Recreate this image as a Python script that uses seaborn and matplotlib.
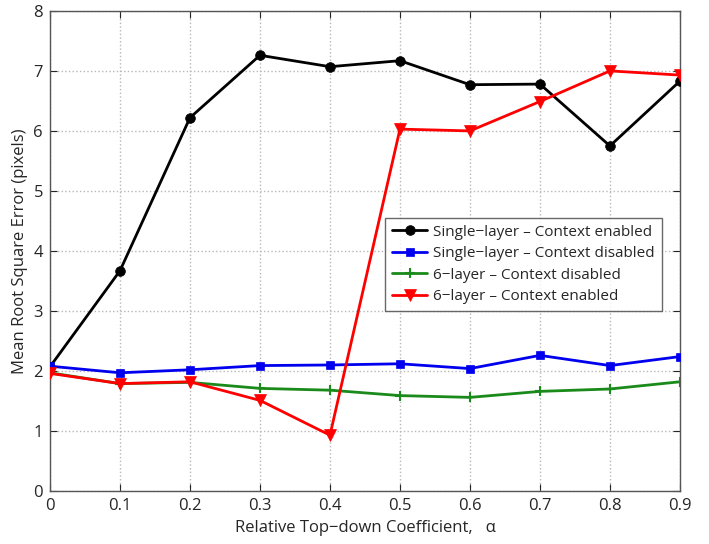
import matplotlib
matplotlib.use("Agg")
import matplotlib.pyplot as plt
import seaborn as sns
import pandas as pd

alpha = [0, 0.1, 0.2, 0.3, 0.4, 0.5, 0.6, 0.7, 0.8, 0.9]
single_ctx_on = [2.07, 3.67, 6.22, 7.26, 7.07, 7.17, 6.77, 6.78, 5.75, 6.83]
single_ctx_off = [2.08, 1.97, 2.02, 2.09, 2.10, 2.12, 2.04, 2.26, 2.09, 2.24]
six_ctx_off = [1.97, 1.79, 1.81, 1.71, 1.68, 1.59, 1.56, 1.66, 1.70, 1.82]
six_ctx_on = [1.96, 1.79, 1.82, 1.51, 0.93, 6.03, 6.00, 6.49, 7.00, 6.93]
labels = ["Single\u2212layer \u2013 Context enabled",
          "Single\u2212layer \u2013 Context disabled",
          "6\u2212layer \u2013 Context disabled",
          "6\u2212layer \u2013 Context enabled"]

sns.set_style("white")
plt.rcParams['font.family'] = ['Open Sans', 'DejaVu Sans']

fig = plt.figure(figsize=(7.09, 5.44), dpi=100)
ax = fig.add_axes([0.0705, 0.0974, 0.8885, 0.8826])

series = [single_ctx_on, single_ctx_off, six_ctx_off, six_ctx_on]
colors = ["black", "#0000ee", "#1a8a1a", "#ff0000"]
markers = ["o", "s", "+", "v"]
msizes = [7, 6, 7, 8]
zorders = [3, 4, 2, 5]
for i in range(4):
    df = pd.DataFrame({"x": alpha, "y": series[i]})
    sns.lineplot(data=df, x="x", y="y", ax=ax, color=colors[i], marker=markers[i],
                 markersize=msizes[i], linewidth=2, label=labels[i],
                 markeredgecolor=colors[i], markeredgewidth=1.5 if markers[i] == "+" else 0.5,
                 zorder=zorders[i])

ax.set_xlim(0, 0.9)
ax.set_ylim(0, 8)
ax.set_xticks(alpha)
ax.set_xticklabels(["0", "0.1", "0.2", "0.3", "0.4", "0.5", "0.6", "0.7", "0.8", "0.9"])
ax.set_yticks(range(0, 9))
ax.grid(True, linestyle=":", color="#b8b8b8", linewidth=1)
ax.tick_params(direction="in", length=5, labelsize=12, top=True, right=True,
               bottom=True, left=True, pad=5)
for s in ax.spines.values():
    s.set_color("#555555")
    s.set_linewidth(1)
ax.set_xlabel("Relative Top\u2212down Coefficient,   \u03b1", fontsize=12)
ax.set_ylabel("Mean Root Square Error (pixels)", fontsize=12)
leg = ax.legend(loc="upper left", bbox_to_anchor=(0.532, 0.569), fontsize=11,
                frameon=True, fancybox=False, edgecolor="#444444", borderaxespad=0,
                handlelength=2.3, borderpad=0.45, labelspacing=0.42, handletextpad=0.4)
leg.get_frame().set_linewidth(1)
fig.savefig("out.png", dpi=100)
